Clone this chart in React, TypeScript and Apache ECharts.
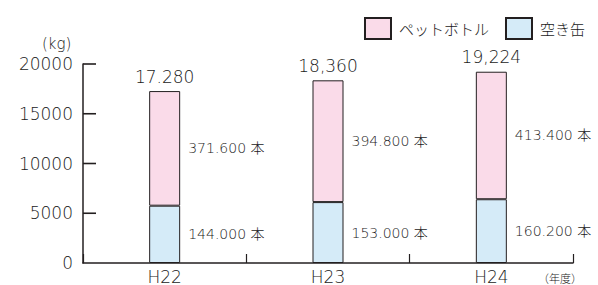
import React, { useEffect, useRef } from "react";
import * as echarts from "echarts";

const categories = ["H22", "H23", "H24"];
const canKg = [5760, 6120, 6408];
const bottleKg = [11520, 12240, 12816];
const totalLabels = ["17.280", "18,360", "19,224"];
const bottleCountLabels = ["371.600 本", "394.800 本", "413.400 本"];
const canCountLabels = ["144.000 本", "153.000 本", "160.200 本"];
const yTicks = { min: 0, max: 20000, interval: 5000 };
const yTickValues = [5000, 10000, 15000, 20000];

const NUM_FONT = "'DejaVu Sans', 'Noto Sans CJK JP'";
const JP_FONT = "'Noto Sans CJK JP', 'DejaVu Sans'";
const TXT = "#1a1a1a";
const AX = "#231f20";
const GRID = { left: 83, right: 25, top: 64, bottom: 20 };
const H = 285;

export default function App() {
  const ref = useRef<HTMLDivElement>(null);
  useEffect(() => {
    if (!ref.current) return;
    const chart = echarts.init(ref.current, null, { renderer: "svg" });
    const texts: any[] = [
      {
        type: "text",
        left: 42,
        top: 36,
        style: { text: "(kg)", fontFamily: NUM_FONT, fontWeight: 200, fontSize: 15, fill: TXT },
      },
      {
        type: "text",
        left: 538,
        top: 272,
        style: { text: "（年度）", fontFamily: JP_FONT, fontWeight: 300, fontSize: 11, fill: TXT },
      },
    ];
    chart.setOption({
      animation: false,
      grid: GRID,
      legend: {
        data: ["ペットボトル", "空き缶"],
        right: 8,
        top: 12,
        itemWidth: 26,
        itemHeight: 21,
        itemGap: 16,
        icon: "rect",
        textStyle: { fontFamily: JP_FONT, fontWeight: 300, fontSize: 15, color: TXT, padding: [0, 0, 0, 3] },
      },
      xAxis: {
        type: "category",
        data: categories,
        axisLine: { lineStyle: { color: AX, width: 1.5 } },
        axisTick: { show: true, inside: false, length: -9, lineStyle: { color: AX, width: 1.2 } },
        axisLabel: { fontFamily: NUM_FONT, fontWeight: 200, fontSize: 17, color: TXT, margin: 5 },
      },
      yAxis: {
        type: "value",
        min: yTicks.min,
        max: yTicks.max,
        interval: yTicks.interval,
        axisLine: { show: true, lineStyle: { color: AX, width: 1.5 } },
        axisTick: { show: false },
        axisLabel: { fontFamily: NUM_FONT, fontWeight: 200, fontSize: 17, color: TXT, margin: 10, formatter: (v: number) => String(v) },
        splitLine: { show: false },
      },
      series: [
        {
          name: "空き缶",
          type: "bar",
          stack: "t",
          barWidth: 31,
          data: canKg,
          itemStyle: { color: "#d5ebf8", borderColor: AX, borderWidth: 1 },
          label: {
            show: true,
            position: "right",
            distance: 8,
            fontFamily: NUM_FONT,
            fontWeight: 200,
            fontSize: 14,
            color: TXT,
            formatter: (p: any) => canCountLabels[p.dataIndex],
          },
        },
        {
          name: "ペットボトル",
          type: "bar",
          stack: "t",
          barWidth: 31,
          data: bottleKg,
          itemStyle: { color: "#fadbe9", borderColor: AX, borderWidth: 1 },
          label: {
            show: true,
            position: "right",
            distance: 8,
            fontFamily: NUM_FONT,
            fontWeight: 200,
            fontSize: 14,
            color: TXT,
            formatter: (p: any) => bottleCountLabels[p.dataIndex],
          },
        },
        {
          name: "total",
          type: "bar",
          stack: "t",
          barWidth: 31,
          data: categories.map(() => 0),
          itemStyle: { color: "transparent", borderWidth: 0 },
          label: {
            show: true,
            position: "top",
            distance: 6,
            fontFamily: NUM_FONT,
            fontWeight: 200,
            fontSize: 17,
            color: TXT,
            formatter: (p: any) => totalLabels[p.dataIndex],
          },
        },
      ],
      graphic: texts,
    });
    // y-axis inner ticks, placed with the value axis' own scale
    const plotH = H - GRID.top - GRID.bottom;
    const tickLines = yTickValues.map((v) => {
      let y: any = null;
      try {
        y = chart.convertToPixel({ yAxisIndex: 0 }, v);
      } catch (e) {
        y = null;
      }
      if (Array.isArray(y)) y = y[1];
      if (typeof y !== "number" || !isFinite(y)) {
        y = GRID.top + plotH * (1 - (v - yTicks.min) / (yTicks.max - yTicks.min));
      }
      return {
        type: "line",
        shape: { x1: GRID.left, y1: y, x2: GRID.left + 13, y2: y },
        style: { stroke: AX, lineWidth: 1.6 },
        z: 100,
      };
    });
    chart.setOption({ graphic: [...texts, ...tickLines] });
    return () => chart.dispose();
  }, []);
  return <div ref={ref} style={{ width: 598, height: 285, position: "absolute", left: 0, top: 0 }} />;
}
